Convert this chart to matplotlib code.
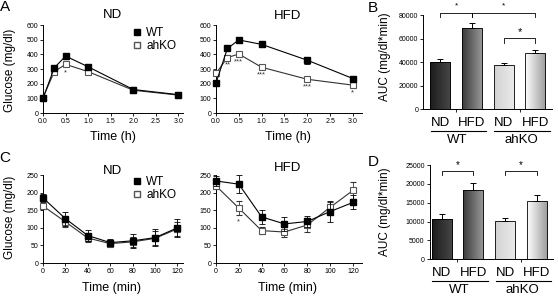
import numpy as np
import matplotlib.pyplot as plt
from matplotlib.colors import LinearSegmentedColormap
from matplotlib.lines import Line2D

plt.rcParams['font.family'] = ['Liberation Sans', 'DejaVu Sans']

# ---- data ----
# OGTT (panel A)
ogtt_time = [0, 0.25, 0.5, 1, 2, 3]
ogtt_nd_wt = [100, 308, 388, 315, 160, 125]
ogtt_nd_wt_err = [10, 12, 12, 12, 8, 8]
ogtt_nd_ko = [105, 282, 332, 282, 155, 122]
ogtt_nd_ko_err = [8, 10, 10, 10, 8, 8]
ogtt_hfd_wt = [205, 440, 498, 468, 360, 235]
ogtt_hfd_wt_err = [15, 15, 12, 15, 25, 20]
ogtt_hfd_ko = [270, 378, 402, 312, 230, 190]
ogtt_hfd_ko_err = [15, 15, 12, 12, 12, 15]
ogtt_nd_stars = [(0.5, 272, '*')]
ogtt_hfd_stars = [(0.25, 325, '**'), (0.5, 348, '***'), (1.0, 258, '***'),
                  (2.0, 177, '***'), (3.0, 136, '*')]

# ITT (panel C)
itt_time = [0, 20, 40, 60, 80, 100, 120]
itt_nd_wt = [185, 126, 78, 58, 63, 72, 100]
itt_nd_wt_err = [10, 20, 15, 10, 20, 25, 25]
itt_nd_ko = [162, 117, 71, 55, 60, 70, 97]
itt_nd_ko_err = [10, 15, 12, 8, 15, 20, 20]
itt_hfd_wt = [233, 224, 131, 111, 118, 146, 172]
itt_hfd_wt_err = [15, 25, 20, 20, 15, 30, 20]
itt_hfd_ko = [219, 156, 92, 88, 108, 158, 206]
itt_hfd_ko_err = [10, 20, 10, 15, 20, 15, 25]
itt_hfd_stars = [(20, 116, '*')]

# AUC (panels B and D)
diets = ['ND', 'HFD', 'ND', 'HFD']
genotypes = ['WT', 'ahKO']
auc_ogtt = [40500, 68700, 37700, 48100]
auc_ogtt_err = [2000, 4800, 1900, 2300]
auc_itt = [10700, 18500, 10200, 15500]
auc_itt_err = [1300, 1800, 650, 1500]

bar_colors = [('#1c1c1c', '#474747'), ('#3a3a3a', '#9a9a9a'),
              ('#d2d2d2', '#ebebeb'), ('#ffffff', '#9c9c9c')]

W, H = 558, 300
fig = plt.figure(figsize=(W / 100, H / 100), dpi=100)


def add_ax(left, top, right, bottom):
    return fig.add_axes([left / W, 1 - bottom / H, (right - left) / W, (bottom - top) / H])


def ftext(x, y, s, **kw):
    fig.text(x / W, 1 - y / H, s, ha='center', va='center', **kw)


def style(ax):
    ax.spines['top'].set_visible(False)
    ax.spines['right'].set_visible(False)
    for s in ('left', 'bottom'):
        ax.spines[s].set_linewidth(0.7)
    ax.tick_params(direction='out', length=2, width=0.6, pad=1.5, labelsize=5)


def line_panel(ax, t, wt, wt_err, ko, ko_err, stars):
    ax.errorbar(t, ko, yerr=ko_err, color='#333333', lw=0.8, marker='s', ms=5,
                mfc='white', mec='#555555', mew=0.8, ecolor='#333333',
                elinewidth=0.6, capsize=2, capthick=0.6, zorder=3, clip_on=False)
    ax.errorbar(t, wt, yerr=wt_err, color='black', lw=0.8, marker='s', ms=5,
                mfc='black', mec='black', ecolor='black',
                elinewidth=0.6, capsize=2, capthick=0.6, zorder=4, clip_on=False)
    for x, y, s in stars:
        ax.text(x, y, s, ha='center', va='center', fontsize=5.5, color='#333333')
    style(ax)


def bar_panel(ax, vals, errs):
    x = np.arange(len(vals))
    w = 0.63
    for xi, v, (c0, c1) in zip(x, vals, bar_colors):
        bar = ax.bar(xi, v, w, facecolor='none', edgecolor='black', lw=0.6, zorder=3)[0]
        cmap = LinearSegmentedColormap.from_list('g', [c0, c1])
        im = ax.imshow(np.linspace(0, 1, 64)[None, :], cmap=cmap, aspect='auto',
                       extent=[xi - w / 2, xi + w / 2, 0, v], zorder=2)
        im.set_clip_path(bar)
    ax.errorbar(x, vals, yerr=[np.zeros(len(errs)), errs], fmt='none',
                ecolor='black', elinewidth=0.7, capsize=2.5, capthick=0.7, zorder=4)
    style(ax)
    ax.set_xticks([0.5, 2.5])
    ax.set_xticklabels(['', ''])
    tr = ax.get_xaxis_transform()
    for xi, d in zip(x, diets):
        ax.text(xi, -0.145, d, transform=tr, ha='center', va='center', fontsize=9.5)
    for i, g in enumerate(genotypes):
        x0, x1 = 2 * i, 2 * i + 1
        ax.plot([x0 - 0.3, x1 + 0.45], [-0.235, -0.235], color='black', lw=0.8,
                transform=tr, clip_on=False)
        ax.text((x0 + x1) / 2 + 0.05, -0.325, g, transform=tr, ha='center',
                va='center', fontsize=9.5)


def bracket(ax, x0, x1, y, leg, label, label_y, size=6):
    ax.plot([x0, x0, x1, x1], [y - leg, y, y, y - leg], color='black', lw=0.6,
            clip_on=False)
    ax.text((x0 + x1) / 2, label_y, label, ha='center', va='center', fontsize=size,
            clip_on=False)


# ---- panel A ----
ax_a1 = add_ax(43, 25, 183, 113)
line_panel(ax_a1, ogtt_time, ogtt_nd_wt, ogtt_nd_wt_err, ogtt_nd_ko, ogtt_nd_ko_err, ogtt_nd_stars)
ax_a2 = add_ax(216, 25, 362, 113)
line_panel(ax_a2, ogtt_time, ogtt_hfd_wt, ogtt_hfd_wt_err, ogtt_hfd_ko, ogtt_hfd_ko_err, ogtt_hfd_stars)
for ax, xmax in ((ax_a1, 3.1), (ax_a2, 3.2)):
    ax.set_xlim(0, xmax)
    ax.set_ylim(0, 600)
    ax.set_xticks(np.arange(0, 3.01, 0.5))
    ax.set_xticklabels([f'{v:.1f}' for v in np.arange(0, 3.01, 0.5)])
    ax.set_yticks(range(0, 601, 100))

# ---- panel C ----
ax_c1 = add_ax(43, 175, 183, 263)
line_panel(ax_c1, itt_time, itt_nd_wt, itt_nd_wt_err, itt_nd_ko, itt_nd_ko_err, [])
ax_c2 = add_ax(216, 175, 362, 263)
line_panel(ax_c2, itt_time, itt_hfd_wt, itt_hfd_wt_err, itt_hfd_ko, itt_hfd_ko_err, itt_hfd_stars)
for ax, xmax in ((ax_c1, 125), (ax_c2, 128)):
    ax.set_xlim(0, xmax)
    ax.set_ylim(0, 250)
    ax.set_xticks(range(0, 121, 20))
    ax.set_yticks(range(0, 251, 50))

# legends
handles = [Line2D([], [], ls='none', marker='s', ms=5, mfc='black', mec='black'),
           Line2D([], [], ls='none', marker='s', ms=5, mfc='white', mec='#555555')]
for ax, top in ((ax_a1, 27), (ax_c1, 176)):
    ax.legend(handles, genotypes, loc='upper left', bbox_to_anchor=(132 / W, 1 - top / H),
              bbox_transform=fig.transFigure, frameon=False, fontsize=8.5,
              handlelength=0.8, handletextpad=0.4, borderpad=0, labelspacing=0.1,
              borderaxespad=0)

# ---- panel B ----
ax_b = add_ax(423, 15, 552, 109.3)
bar_panel(ax_b, auc_ogtt, auc_ogtt_err)
ax_b.set_xlim(-0.54, 3.52)
ax_b.set_ylim(0, 80000)
ax_b.set_yticks(range(0, 80001, 20000))
bracket(ax_b, 0, 1, 81400, 2800, '*', 87600)
bracket(ax_b, 1, 3, 81400, 2800, '*', 87600)
bracket(ax_b, 2, 3, 60200, 4200, '*', 65800, size=8)

# ---- panel D ----
ax_d = add_ax(429.5, 165, 553, 259.3)
bar_panel(ax_d, auc_itt, auc_itt_err)
ax_d.set_xlim(-0.38, 3.51)
ax_d.set_ylim(0, 25000)
ax_d.set_yticks(range(0, 25001, 5000))
bracket(ax_d, 0, 1, 23500, 1150, '*', 25000, size=7)
bracket(ax_d, 2, 3, 23500, 1150, '*', 25000, size=7)

# ---- text ----
ftext(5, 7, 'A', fontsize=11)
ftext(373, 8, 'B', fontsize=11)
ftext(5, 158, 'C', fontsize=11)
ftext(373, 162, 'D', fontsize=11)
ftext(112, 15, 'ND', fontsize=9.5)
ftext(288, 16, 'HFD', fontsize=9.5)
ftext(112, 171, 'ND', fontsize=9.5)
ftext(288, 168, 'HFD', fontsize=9.5)
ftext(113, 137, 'Time (h)', fontsize=9)
ftext(288, 137, 'Time (h)', fontsize=9)
ftext(112, 288, 'Time (min)', fontsize=9)
ftext(288, 288, 'Time (min)', fontsize=9)
ftext(10, 70, 'Glucose (mg/dl)', fontsize=8.5, rotation=90)
ftext(10, 217, 'Glucose (mg/dl)', fontsize=8.5, rotation=90)
ftext(385, 57, 'AUC (mg/dl*min)', fontsize=8.5, rotation=90)
ftext(385, 212, 'AUC (mg/dl*min)', fontsize=8.5, rotation=90)

fig.savefig('out.png', dpi=100)
